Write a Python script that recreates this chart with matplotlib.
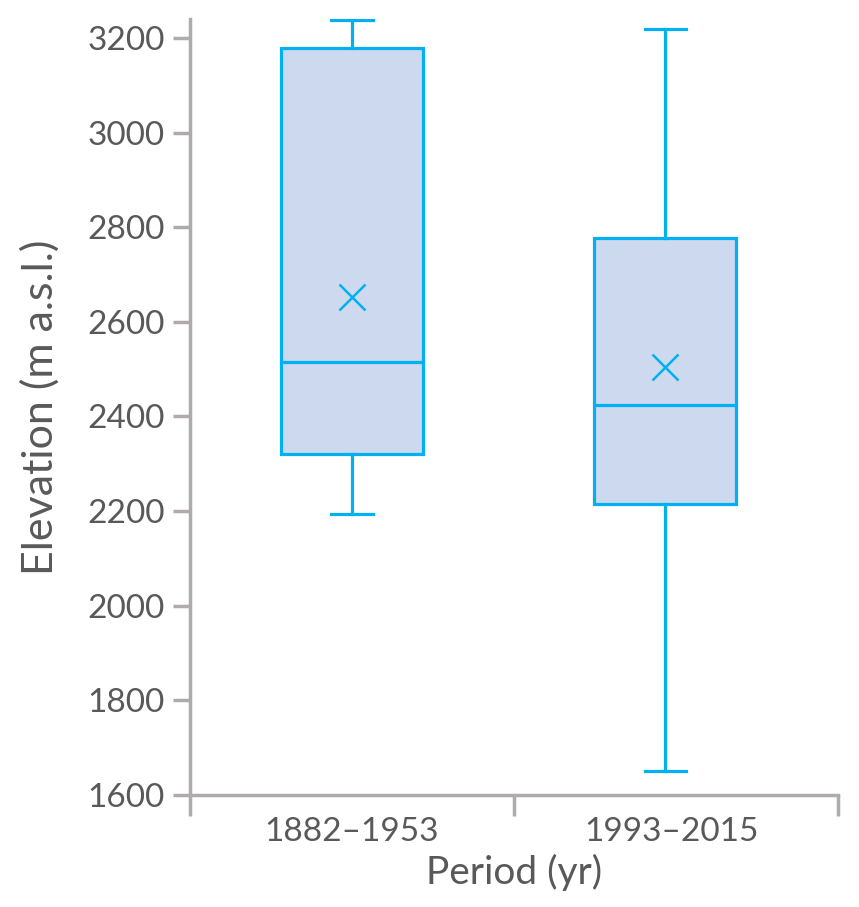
import matplotlib.pyplot as plt
from matplotlib.ticker import FixedLocator

plt.rcParams["font.family"] = ["Lato", "DejaVu Sans"]

# Box plot summary values (m a.s.l.)
periods = ["1882–1953", "1993–2015"]
whisker_low = [2194, 1651]
q1 = [2320, 2215]
median = [2516, 2425]
q3 = [3178, 2777]
whisker_high = [3239, 3220]
mean = [2653, 2504]

blue = "#00b0f0"
fill = "#cdd9ee"
grey = "#b0abab"
text_grey = "#595959"

stats = []
for i, name in enumerate(periods):
    stats.append({
        "label": name,
        "whislo": whisker_low[i],
        "q1": q1[i],
        "med": median[i],
        "q3": q3[i],
        "whishi": whisker_high[i],
        "mean": mean[i],
        "fliers": [],
    })

fig = plt.figure(figsize=(8.59, 9.07), dpi=100)
ax = fig.add_axes([0.2212, 0.1235, 0.7545, 0.8555])

# second box sits slightly left of its category centre in the original
ax.bxp(
    stats,
    positions=[1.0, 1.966],
    widths=0.437,
    patch_artist=True,
    showmeans=True,
    boxprops=dict(facecolor=fill, edgecolor=blue, linewidth=2.3),
    medianprops=dict(color=blue, linewidth=2.3),
    whiskerprops=dict(color=blue, linewidth=2.3),
    capprops=dict(color=blue, linewidth=2.3),
    capwidths=0.127,
    meanprops=dict(marker="x", markeredgecolor=blue, markersize=19,
                   markeredgewidth=1.8),
)

ax.set_xlim(0.5, 2.5)
ax.set_ylim(1600, 3240)
ax.set_yticks(range(1600, 3201, 200))

ax.set_xticks([1, 1.985])
ax.set_xticklabels(periods)
ax.xaxis.set_minor_locator(FixedLocator([0.5, 1.5, 2.5]))
ax.tick_params(axis="x", which="major", length=0, pad=16,
               labelsize=24, labelcolor=text_grey)
ax.tick_params(axis="x", which="minor", length=15, width=2.5, color=grey)
ax.tick_params(axis="y", length=12, width=2.5, color=grey, pad=6,
               labelsize=24, labelcolor=text_grey)

for side in ["top", "right"]:
    ax.spines[side].set_visible(False)
for side in ["left", "bottom"]:
    ax.spines[side].set_color(grey)
    ax.spines[side].set_linewidth(2.5)

ax.set_xlabel("Period (yr)", fontsize=28, color=text_grey, labelpad=5)
ax.set_ylabel("Elevation (m a.s.l.)", fontsize=31, color=text_grey, labelpad=20)

fig.savefig("out.png", dpi=100)
